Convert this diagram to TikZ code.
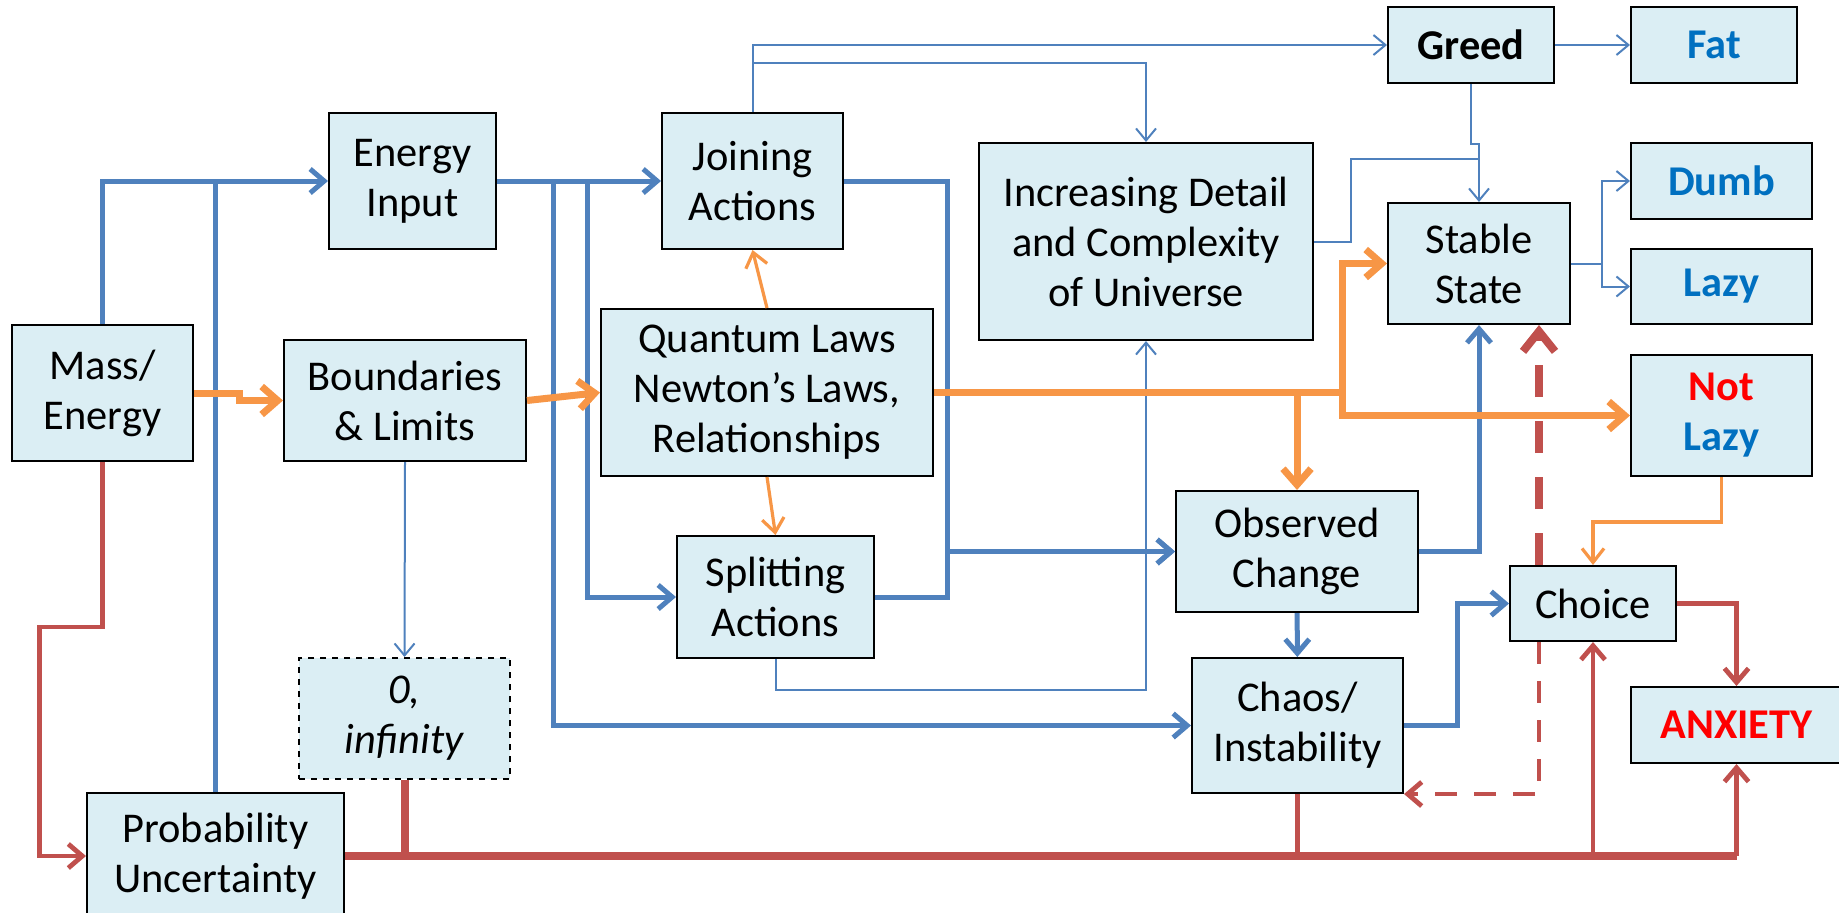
\documentclass[tikz,border=0pt]{standalone}
\usepackage{fontspec}
\setmainfont{Carlito}
\usetikzlibrary{arrows.meta}
\definecolor{boxfill}{HTML}{DBEEF4}
\definecolor{lineblue}{HTML}{4F81BD}
\definecolor{lineorange}{HTML}{F79646}
\definecolor{linered}{HTML}{C0504D}
\definecolor{textblue}{HTML}{0070C0}
\definecolor{textred}{HTML}{FF0000}

\tikzset{
  box/.style={draw, line width=1pt, fill=boxfill, align=center, inner sep=0pt,
    font=\fontsize{21.2}{25}\selectfont},
  bthick/.style={lineblue, line width=2.5pt, >={Straight Barb[length=7pt,width=12pt]}},
  bthin/.style={lineblue, line width=1pt, >={Straight Barb[length=6pt,width=10pt]}},
  othick/.style={lineorange, line width=3.5pt, >={Straight Barb[length=8pt,width=14pt]}},
  othin/.style={lineorange, line width=1.6pt, >={Straight Barb[length=7pt,width=11pt]}},
  rthick/.style={linered, line width=4pt, >={Straight Barb[length=7pt,width=12pt]}},
  rthin/.style={linered, line width=2.4pt, >={Straight Barb[length=7pt,width=12pt]}},
}

\begin{document}
\begin{tikzpicture}[x=0.5pt, y=-0.5pt]
\useasboundingbox (0,0) rectangle (1839,912);

% boxes
\node[box, minimum width=90.5pt, minimum height=68pt] (mass) at (102.5,393) {Mass/\\Energy};
\node[box, minimum width=83.5pt, minimum height=68pt] (energy) at (412.5,181) {Energy\\Input};
\node[box, minimum width=121pt, minimum height=60.5pt] (bound) at (405,400.5) {Boundaries\\\& Limits};
\node[box, minimum width=90.5pt, minimum height=68pt] (join) at (752.5,181) {Joining\\Actions};
\node[box, minimum width=166pt, minimum height=83.5pt] (quantum) at (767,392.5) {Quantum Laws\\Newton’s Laws,\\Relationships};
\node[box, minimum width=98.5pt, minimum height=61pt] (split) at (775.5,597) {Splitting\\Actions};
\node[box, dashed, minimum width=105.5pt, minimum height=60.5pt] (zeroinf) at (404.5,718.5) {\textit{0,}\\\textit{infinity}};
\node[box, minimum width=128.5pt, minimum height=63pt] (prob) at (215.5,856) {Probability\\Uncertainty};
\node[box, minimum width=167pt, minimum height=98.5pt] (detail) at (1146,241.5) {Increasing Detail\\and Complexity\\of Universe};
\node[box, minimum width=83pt, minimum height=38pt] (greed) at (1471,45) {\textbf{Greed}};
\node[box, minimum width=83pt, minimum height=38pt] (fat) at (1714,45) {\textbf{\textcolor{textblue}{Fat}}};
\node[box, minimum width=91pt, minimum height=60.5pt] (stable) at (1479,263.5) {Stable\\State};
\node[box, minimum width=90.5pt, minimum height=38pt] (dumb) at (1721.5,181) {\textbf{\textcolor{textblue}{Dumb}}};
\node[box, minimum width=90.5pt, minimum height=37.5pt] (lazy) at (1721.5,286.5) {\textbf{\textcolor{textblue}{Lazy}}};
\node[box, minimum width=90.5pt, minimum height=60.5pt] (notlazy) at (1721.5,415.5) {\textbf{\textcolor{textred}{Not}}\\\textbf{\textcolor{textblue}{Lazy}}};
\node[box, minimum width=121pt, minimum height=60.5pt] (observed) at (1297,551.5) {Observed\\Change};
\node[box, minimum width=105.5pt, minimum height=67.5pt] (chaos) at (1297.5,725.5) {Chaos/\\Instability};
\node[box, minimum width=83pt, minimum height=37.5pt] (choice) at (1593,603.5) {Choice};
\node[box, minimum width=106pt, minimum height=38pt] (anxiety) at (1736.5,725) {\textbf{\textcolor{textred}{ANXIETY}}};

\coordinate (jn) at (1479,159);
\coordinate (dtop) at ([xshift=-27pt]choice.north);
\coordinate (dbot) at ([xshift=-27pt]choice.south);

% blue
\draw[bthick,->] (mass.north) |- (energy.west);
\draw[bthick] (prob.north) -- (prob.north |- energy.west);
\draw[bthick,->] (energy.east) -- (join.west);
\draw[bthick,->] (energy.east) -- ++(56,0) |- (chaos.west);
\draw[bthick,->] (energy.east) -- ++(90,0) |- (split.west);
\draw[bthick,->] (join.east) -- ++(103,0) |- (observed.west);
\draw[bthick,->] (split.east) -- ++(72,0) |- (observed.west);
\draw[bthick,->] (observed.east) -| (stable.south);
\draw[bthick,->] (observed) -- (chaos);
\draw[bthick,->] (chaos.east) -- ++(53,0) |- (choice.west);
\draw[bthin,->] (join.north) |- (greed.west);
\draw[bthin,->] (join.north) -- ++(0,-49) -| (detail.north);
\draw[bthin,->] (greed.east) -- (fat.west);
\draw[bthin,->] (greed.south) -- ++(0,60) -| (stable.north);
\draw[bthin] (detail.east) -- ++(37,0) |- (jn);
\draw[bthin,->] (stable.east) -- ++(31,0) |- (dumb.west);
\draw[bthin,->] (stable.east) -- ++(31,0) |- (lazy.west);
\draw[bthin,->] (bound.south) -- (zeroinf.north);
\draw[bthin,->] (split.south) -- ++(0,31) -| (detail.south);

% orange
\draw[othick,->] (mass.east) -- ++(45,0) |- (bound.west);
\draw[othick,->] (bound.east) -- (quantum.west);
\draw[othin,->] (quantum.north) -- (join.south);
\draw[othin,->] (quantum.south) -- (split.north);
\draw[othick,->] (quantum.east) -- ++(408,0) |- (stable.west);
\draw[othick,->] (quantum.east) -- ++(408,0) |- (notlazy.west);
\draw[othick,->] (quantum.east) -| (observed.north);
\draw[othin,->] (notlazy.south) -- ++(0,45) -| (choice.north);

% red
\draw[rthin,->] (mass.south) -- ++(0,165) -- ++(-63,0) |- (prob.west);
\draw[rthick] (prob.east) -- (anxiety.south |- prob.east);
\draw[rthin,->] (anxiety.south |- prob.east) -- (anxiety.south);
\draw[rthick] (zeroinf.south) -- (zeroinf.south |- prob.east);
\draw[rthin] (chaos.south) -- (chaos.south |- prob.east);
\draw[rthin,->] (choice.south |- prob.east) -- (choice.south);
\draw[rthin,->] (choice.east) -| (anxiety.north);
\draw[rthick,dash pattern=on 16pt off 12pt,>={Straight Barb[length=10pt,width=16pt]},->] (dtop) -- (dtop |- stable.south);
\draw[rthin,dash pattern=on 11pt off 8.5pt,->] (dbot) |- (chaos.south east);
\end{tikzpicture}
\end{document}
